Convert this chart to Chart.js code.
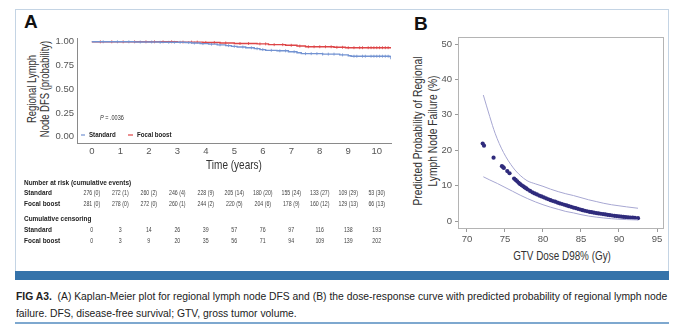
<!DOCTYPE html>
<html>
<head>
<meta charset="utf-8">
<script src="https://cdn.jsdelivr.net/npm/chart.js@4"></script>
<style>
  body { margin: 0; width: 679px; height: 329px; background: #fff; position: relative; overflow: hidden;
         font-family: "Liberation Sans", Arial, sans-serif; color: #222; }
  .panel { position: absolute; left: 15px; top: 9px; width: 652px; height: 261px; border: 1px solid #c4d4e4; border-bottom: none; }
  .bar { position: absolute; left: 15px; top: 271px; width: 654px; height: 9px; background: #3573aa; }
  .rule { position: absolute; left: 15px; top: 322px; width: 654px; height: 2px; background: #7ea8cf; }
  .tag { position: absolute; font: bold 19px "Liberation Sans", Arial, sans-serif; color: #111; }
  .ytitle { position: absolute; text-align: center; color: #333; white-space: nowrap; }
  .xtitle { position: absolute; font-size: 13px; color: #333; white-space: nowrap; }
  .caption { position: absolute; left: 16px; top: 288px; font-size: 11px; line-height: 17px; color: #222; white-space: nowrap;
             transform: scaleX(0.94); transform-origin: 0 0; }
  canvas { position: absolute; }
</style>
</head>
<body>
<div class="panel"></div>
<div class="bar"></div>
<div class="rule"></div>

<div class="tag" style="left:24px; top:11px;">A</div>
<div class="tag" style="left:414px; top:13px;">B</div>

<div class="ytitle" style="left:38px; top:89px; font-size:12px; line-height:12.5px; transform: translate(-50%, -50%) rotate(-90deg) scaleX(0.79);">Regional Lymph<br>Node DFS (probability)</div>
<div class="ytitle" style="left:425px; top:131px; font-size:13px; line-height:15px; transform: translate(-50%, -50%) rotate(-90deg) scaleX(0.79);">Predicted Probability of Regional<br>Lymph Node Failure (%)</div>
<div class="xtitle" style="left:562px; top:255px; transform: translate(-50%, -50%) scaleX(0.76);">GTV Dose D98% (Gy)</div>

<div class="caption"><b>FIG A3.</b>&nbsp; (A) Kaplan-Meier plot for regional lymph node DFS and (B) the dose-response curve with predicted probability of regional lymph node<br>failure. DFS, disease-free survival; GTV, gross tumor volume.</div>

<canvas id="km" width="385" height="245" style="left:20px; top:15px;"></canvas>
<canvas id="dose" width="270" height="230" style="left:400px; top:15px;"></canvas>

<script>
// ---- Panel A: Kaplan-Meier, regional lymph node DFS ----
const kmYears = [0, 1, 2, 3, 4, 5, 6, 7, 8, 9, 10];

const stdTimes = [0, 1.5, 2.4, 3.27, 3.5, 3.8, 4.1, 4.4, 4.7, 4.9, 5.1, 5.4, 5.7, 5.9, 6.1, 6.5, 6.9, 7.2, 7.35, 8.1, 8.7, 9.0, 9.1, 10.45, 10.5];
const stdSurv  = [1.0, 0.998, 0.995, 0.992, 0.987, 0.981, 0.975, 0.968, 0.96, 0.952, 0.945, 0.937, 0.928, 0.918, 0.91, 0.905, 0.895, 0.885, 0.875, 0.87, 0.862, 0.853, 0.848, 0.845, 0.815];
const stdCensor = [0.4, 0.9, 1.3, 1.7, 2.1, 2.4, 2.7, 2.9, 3.1, 3.4, 3.6, 3.9, 4.2, 4.5, 4.8, 5.0, 5.3, 5.6, 5.8, 6.0, 6.3, 6.6, 6.8, 7.1, 7.5, 7.7, 7.9, 8.1, 8.3, 8.5, 8.8, 9.2, 9.3, 9.5, 9.6, 9.8, 9.9, 10.0, 10.1, 10.2, 10.3, 10.4];

const focTimes = [0, 3.0, 3.9, 4.5, 5.0, 5.8, 6.2, 6.8, 7.2, 7.5, 8.5, 8.9, 10.5];
const focSurv  = [1.0, 0.997, 0.993, 0.988, 0.982, 0.978, 0.97, 0.963, 0.955, 0.948, 0.942, 0.938, 0.935];
const focCensor = [0.3, 0.7, 1.1, 1.5, 1.9, 2.2, 2.5, 2.8, 3.2, 3.5, 3.7, 4.0, 4.3, 4.7, 5.2, 5.5, 5.9, 6.1, 6.4, 6.7, 7.0, 7.3, 7.6, 7.8, 8.0, 8.2, 8.4, 8.6, 8.8, 9.0, 9.2, 9.4, 9.5, 9.7, 9.8, 9.9, 10.0, 10.1, 10.2, 10.3, 10.4];

const riskStd = ["276 (0)", "272 (1)", "260 (2)", "246 (4)", "228 (9)", "205 (14)", "180 (20)", "155 (24)", "133 (27)", "109 (29)", "53 (30)"];
const riskFoc = ["281 (0)", "278 (0)", "272 (0)", "260 (1)", "244 (2)", "220 (5)", "204 (6)", "178 (9)", "160 (12)", "129 (13)", "66 (13)"];
const censStd = [0, 3, 14, 26, 39, 57, 76, 97, 116, 138, 193];
const censFoc = [0, 3, 9, 20, 35, 56, 71, 94, 109, 139, 202];

const kmTicks = [0, 0.25, 0.5, 0.75, 1];

const STD_COLOR = "#7393d2";
const FOC_COLOR = "#dd4446";
const FONT = '"Liberation Sans", Arial, sans-serif';

// survival at time t on a step curve
function survAt(times, surv, t) {
  let s = surv[0];
  for (let i = 0; i < times.length; i++) if (times[i] <= t) s = surv[i];
  return s;
}

// squeeze text horizontally to get a condensed face
function narrowText(ctx, text, x, y, sx) {
  ctx.save();
  ctx.translate(x, y);
  ctx.scale(sx, 1);
  ctx.fillText(text, 0, 0);
  ctx.restore();
}

const kmExtras = {
  id: "kmExtras",
  afterDraw(chart) {
    const { ctx, chartArea: a, scales: { x } } = chart;
    ctx.save();
    ctx.textBaseline = "middle";

    // axis title
    ctx.fillStyle = "#333";
    ctx.textAlign = "center";
    ctx.font = "13px " + FONT;
    narrowText(ctx, "Time (years)", (a.left + a.right) / 2, a.bottom + 22, 0.77);

    // P value
    ctx.textAlign = "left";
    ctx.font = "italic 6.5px " + FONT;
    narrowText(ctx, "P", a.left + 23, a.bottom - 25, 0.85);
    const pw = ctx.measureText("P").width * 0.85;
    ctx.font = "6.5px " + FONT;
    narrowText(ctx, " = .0036", a.left + 23 + pw, a.bottom - 25, 0.85);

    // legend
    const ly = a.bottom - 8;
    ctx.lineWidth = 1.2;
    ctx.strokeStyle = STD_COLOR;
    ctx.beginPath(); ctx.moveTo(a.left + 4, ly); ctx.lineTo(a.left + 8, ly); ctx.stroke();
    ctx.strokeStyle = FOC_COLOR;
    ctx.beginPath(); ctx.moveTo(a.left + 51, ly); ctx.lineTo(a.left + 56, ly); ctx.stroke();
    ctx.font = "bold 7px " + FONT;
    ctx.fillStyle = "#222";
    narrowText(ctx, "Standard", a.left + 12, ly, 0.88);
    narrowText(ctx, "Focal boost", a.left + 60, ly, 0.88);

    // number-at-risk and censoring table
    const lx = 4;
    const rows = [
      [40, "Number at risk (cumulative events)", null],
      [50, "Standard", riskStd],
      [61, "Focal boost", riskFoc],
      [76, "Cumulative censoring", null],
      [87, "Standard", censStd],
      [98, "Focal boost", censFoc]
    ];
    rows.forEach(([dy, label, vals]) => {
      const y = a.bottom + dy;
      ctx.textAlign = "left";
      ctx.font = "bold 7.5px " + FONT;
      ctx.fillStyle = "#222";
      narrowText(ctx, label, lx, y, 0.86);
      if (!vals) return;
      ctx.textAlign = "center";
      ctx.font = "7.5px " + FONT;
      ctx.fillStyle = "#444";
      vals.forEach((v, i) => narrowText(ctx, String(v), x.getPixelForValue(kmYears[i]), y, 0.7));
    });
    ctx.restore();
  }
};

const censorStyle = {
  showLine: false,
  pointStyle: "line",
  rotation: 90,
  pointRadius: 1.5,
  borderWidth: 0.8
};

new Chart(document.getElementById("km"), {
  type: "line",
  data: {
    datasets: [
      { label: "Standard", data: stdTimes.map((t, i) => ({ x: t, y: stdSurv[i] })),
        borderColor: STD_COLOR, borderWidth: 1.4, stepped: "before", pointRadius: 0 },
      { label: "Focal boost", data: focTimes.map((t, i) => ({ x: t, y: focSurv[i] })),
        borderColor: FOC_COLOR, borderWidth: 1.4, stepped: "before", pointRadius: 0 },
      { label: "Standard censored", data: stdCensor.map(t => ({ x: t, y: survAt(stdTimes, stdSurv, t) })),
        borderColor: STD_COLOR, ...censorStyle },
      { label: "Focal censored", data: focCensor.map(t => ({ x: t, y: survAt(focTimes, focSurv, t) })),
        borderColor: FOC_COLOR, ...censorStyle }
    ]
  },
  options: {
    responsive: false,
    animation: false,
    layout: { padding: { top: 23, right: 14, left: 0, bottom: 0 } },
    plugins: { legend: { display: false }, tooltip: { enabled: false } },
    scales: {
      x: {
        type: "linear", min: -0.52, max: 10.5,
        afterBuildTicks: s => { s.ticks = kmYears.map(v => ({ value: v })); },
        afterFit: s => { s.height = 117; },
        grid: { display: false, drawTicks: false },
        border: { display: true, color: "#8a8a8a", width: 1 },
        ticks: { color: "#555", font: { family: "Liberation Sans", size: 9.5 }, padding: 3, maxRotation: 0 }
      },
      y: {
        min: -0.066, max: 1.04,
        afterBuildTicks: s => { s.ticks = kmTicks.map(v => ({ value: v })); },
        afterFit: s => { s.width = 57; },
        grid: { display: false, drawTicks: false },
        border: { display: true, color: "#8a8a8a", width: 1 },
        ticks: { color: "#555", font: { family: "Liberation Sans", size: 9.5 }, padding: 3,
                 callback: v => v.toFixed(2) }
      }
    }
  },
  plugins: [kmExtras]
});

// ---- Panel B: dose-response with confidence band ----
const doseX = [72.07, 72.24, 73.5, 74.6, 74.75, 74.85, 75.3, 75.6, 76.2, 76.4, 76.6, 76.8, 77.0, 77.2, 77.4, 77.6, 77.8, 78.0, 78.3, 78.6, 78.9, 79.2, 79.5, 79.8, 80.1, 80.4, 80.7, 81.0, 81.3, 81.6, 81.9, 82.2, 82.5, 82.8, 83.1, 83.4, 83.7, 84.0, 84.3, 84.6, 84.9, 85.2, 85.5, 85.8, 86.1, 86.4, 86.7, 87.0, 87.3, 87.6, 87.9, 88.2, 88.5, 88.8, 89.1, 89.4, 89.7, 90.0, 90.3, 90.6, 90.9, 91.2, 91.5, 91.8, 92.1, 92.5];
const doseProb = [21.9, 21.3, 17.9, 15.5, 15.2, 15.0, 14.1, 13.5, 12.0, 11.6, 11.2, 10.8, 10.4, 10.1, 9.8, 9.5, 9.2, 8.9, 8.5, 8.1, 7.8, 7.5, 7.2, 6.95, 6.7, 6.4, 6.15, 5.9, 5.65, 5.45, 5.2, 5.0, 4.8, 4.6, 4.4, 4.2, 4.0, 3.8, 3.65, 3.45, 3.25, 3.05, 2.9, 2.75, 2.6, 2.5, 2.35, 2.25, 2.15, 2.05, 1.95, 1.85, 1.75, 1.65, 1.55, 1.45, 1.38, 1.3, 1.23, 1.16, 1.1, 1.04, 0.98, 0.93, 0.88, 0.8];

const upperX = [72.15, 73.0, 73.7, 74.8, 76.1, 77.0, 77.9, 79.0, 80.0, 81.0, 82.0, 83.0, 84.0, 85.0, 86.0, 87.0, 88.0, 89.0, 90.0, 91.0, 92.5];
const upperY = [35.6, 29.5, 24.8, 19.4, 15.0, 12.9, 11.4, 10.5, 9.8, 9.0, 8.3, 7.7, 7.2, 6.6, 6.0, 5.5, 5.0, 4.6, 4.3, 4.0, 3.6];

const lowerX = [72.15, 73.0, 74.0, 75.0, 76.0, 77.0, 78.0, 79.0, 80.0, 81.0, 82.0, 83.0, 84.0, 85.0, 86.0, 87.0, 88.0, 89.0, 90.0, 91.0, 92.5];
const lowerY = [12.5, 11.6, 10.6, 9.5, 8.4, 7.3, 6.3, 5.4, 4.6, 3.9, 3.3, 2.7, 2.3, 1.8, 1.4, 1.1, 0.85, 0.65, 0.5, 0.4, 0.3];

const doseTicks = [70, 75, 80, 85, 90, 95];
const probTicks = [0, 10, 20, 30, 40, 50];

const frame = {
  id: "frame",
  beforeDatasetsDraw(chart) {
    const { ctx, chartArea: a } = chart;
    ctx.save();
    ctx.strokeStyle = "#b4b4b4";
    ctx.lineWidth = 1;
    ctx.strokeRect(a.left + 0.5, a.top + 0.5, a.right - a.left - 1, a.bottom - a.top - 1);
    ctx.restore();
  }
};

const bandLine = { borderColor: "#a7a7d2", borderWidth: 1, pointRadius: 0, cubicInterpolationMode: "monotone", fill: false };

new Chart(document.getElementById("dose"), {
  type: "scatter",
  data: {
    datasets: [
      { label: "Upper", data: upperX.map((x, i) => ({ x, y: upperY[i] })), showLine: true, ...bandLine },
      { label: "Lower", data: lowerX.map((x, i) => ({ x, y: lowerY[i] })), showLine: true, ...bandLine },
      { label: "Predicted", data: doseX.map((x, i) => ({ x, y: doseProb[i] })),
        backgroundColor: "#2f2b7c", borderColor: "#2f2b7c", pointRadius: 2.1, borderWidth: 0 }
    ]
  },
  options: {
    responsive: false,
    animation: false,
    layout: { padding: { top: 22, right: 6, left: 0, bottom: 0 } },
    plugins: { legend: { display: false }, tooltip: { enabled: false } },
    scales: {
      x: {
        type: "linear", min: 68.82, max: 95.92,
        afterBuildTicks: s => { s.ticks = doseTicks.map(v => ({ value: v })); },
        afterFit: s => { s.height = 16; },
        grid: { drawOnChartArea: false, tickLength: 3, color: "#9a9a9a" },
        border: { display: false },
        ticks: { color: "#555", font: { family: "Liberation Sans", size: 9.5 }, padding: 2, maxRotation: 0 }
      },
      y: {
        min: -2.26, max: 52,
        afterBuildTicks: s => { s.ticks = probTicks.map(v => ({ value: v })); },
        afterFit: s => { s.width = 58; },
        grid: { drawOnChartArea: false, tickLength: 3, color: "#9a9a9a" },
        border: { display: false },
        ticks: { color: "#555", font: { family: "Liberation Sans", size: 9.5 }, padding: 3 }
      }
    }
  },
  plugins: [frame]
});
</script>
</body>
</html>
